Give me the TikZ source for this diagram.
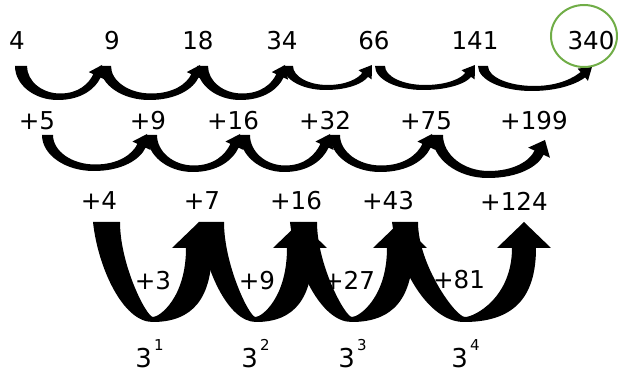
\documentclass[tikz,border=0pt]{standalone}
\usepackage{fontspec}
\setmainfont{DejaVu Sans}
\usetikzlibrary{shapes.geometric}
\definecolor{circgreen}{HTML}{70AD47}
\pgfkeys{/carr/.is family, /carr,
 a/.store in=\cA, w/.store in=\cW, yt/.store in=\cYT, t/.store in=\cT,
 ytip/.store in=\cYTip, yb/.store in=\cYB, th/.store in=\cTH, hh/.store in=\cHH,
 hw/.store in=\cHW, s/.store in=\cS, phi/.store in=\cPhi, kv/.store in=\cKV,
 kh/.store in=\cKH, ki/.store in=\cKI, kr/.store in=\cKR, kir/.store in=\cKIR,
 tx/.store in=\cTX}
\newcommand\carrow[1]{\begingroup
 \pgfkeys{/carr, phi=0, kv=0.552, kh=0.552, ki=0.552, kr=0.552, kir=0.552, tx=0, #1}%
 \pgfmathsetmacro\cB{\cA+\cW}%
 \pgfmathsetmacro\sn{sin(\cPhi)}\pgfmathsetmacro\cs{cos(\cPhi)}%
 \pgfmathsetmacro\Bx{\cT-\cHH*\sn}\pgfmathsetmacro\By{\cYTip+\cHH*\cs}%
 \pgfmathsetmacro\Rx{\Bx+\cS*\cs}\pgfmathsetmacro\Ry{\By+\cS*\sn}%
 \pgfmathsetmacro\Lx{\Bx-\cS*\cs}\pgfmathsetmacro\Ly{\By-\cS*\sn}%
 \pgfmathsetmacro\HRx{\Bx+\cHW*\cs}\pgfmathsetmacro\HRy{\By+\cHW*\sn}%
 \pgfmathsetmacro\HLx{\Bx-\cHW*\cs}\pgfmathsetmacro\HLy{\By-\cHW*\sn}%
 \pgfmathsetmacro\Xo{(\cA+\Rx)/2}%
 \pgfmathsetmacro\Ybi{\cYB-\cTH}%
 \pgfmathsetmacro\Xi{(\cB+\Lx)/2}%
 \pgfmathsetmacro\Oax{\cA+\cTX*(\Xo-\cA)}%
 \pgfmathsetmacro\Oay{\cYT+\cKV*(\cYB-\cYT)}%
 \pgfmathsetmacro\Obx{\Xo-\cKH*(\Xo-\cA)}%
 \pgfmathsetmacro\Ocx{\Xo+\cKR*(\Rx-\Xo)}%
 \pgfmathsetmacro\Lr{\cKR*(\cYB-\Ry)}%
 \pgfmathsetmacro\Odx{\Rx-\Lr*\sn}\pgfmathsetmacro\Ody{\Ry+\Lr*\cs}%
 \pgfmathsetmacro\Li{\cKIR*(\Ybi-\Ly)}%
 \pgfmathsetmacro\Iax{\Lx-\Li*\sn}\pgfmathsetmacro\Iay{\Ly+\Li*\cs}%
 \pgfmathsetmacro\Ibx{\Xi+\cKI*(\Lx-\Xi)}%
 \pgfmathsetmacro\Icx{\Xi-\cKI*(\Xi-\cB)}%
 \pgfmathsetmacro\Idy{\cYT+\cKV*(\Ybi-\cYT)}%
 \fill[arrowfill] (\cA,\cYT) .. controls (\Oax,\Oay) and (\Obx,\cYB) .. (\Xo,\cYB)
   .. controls (\Ocx,\cYB) and (\Odx,\Ody) .. (\Rx,\Ry)
   -- (\HRx,\HRy) -- (\cT,\cYTip) -- (\HLx,\HLy) -- (\Lx,\Ly)
   .. controls (\Iax,\Iay) and (\Ibx,\Ybi) .. (\Xi,\Ybi)
   .. controls (\Icx,\Ybi) and (\cB,\Idy) .. (\cB,\cYT) -- cycle;
 \endgroup}
\tikzset{
 arrowfill/.style={fill=black},
 lbl/.style={font=\fontsize{12.3}{14}\selectfont, inner sep=0pt},
 pw/.style={font=\fontsize{13}{15}\selectfont, inner sep=0pt, anchor=base west},
 ring/.style={draw=circgreen, line width=1pt, ellipse, minimum width=33pt, minimum height=31pt, inner sep=0pt},
 bigarr/.style={}
}
\newcommand\supp[1]{\kern0.08em\raisebox{0.68em}{\fontsize{7.5}{8}\selectfont #1}}
\begin{document}
\begin{tikzpicture}[x=0.5pt,y=-0.5pt]
\useasboundingbox (0,0) rectangle (618,374);
% row 1 arrows
\carrow{a=15, w=12, yt=66, t=102, ytip=65, yb=100, th=6.5, hh=12, hw=9, s=4, phi=25}
\carrow{a=100, w=11, yt=66, t=200, ytip=65, yb=100, th=6.5, hh=12, hw=9, s=4, phi=25}
\carrow{a=197, w=11, yt=66, t=285, ytip=65, yb=100, th=6.5, hh=12, hw=9, s=4, phi=25}
\carrow{a=283, w=10, yt=66, t=372, ytip=65, yb=90, th=5, hh=12, hw=8, s=3.5, phi=35}
\carrow{a=375, w=10, yt=66, t=475, ytip=65, yb=90, th=5, hh=12, hw=8, s=3.5, phi=35}
\carrow{a=478, w=10, yt=66, t=592, ytip=67, yb=91, th=5, hh=12, hw=8, s=3.5, phi=50}
% row 2 arrows
\carrow{a=42, w=11, yt=135, t=147, ytip=134, yb=171, th=6.5, hh=13, hw=10, s=4.5, phi=25}
\carrow{a=147, w=10, yt=135, t=240, ytip=134, yb=172, th=6.5, hh=13, hw=10, s=4.5, phi=25}
\carrow{a=240, w=10, yt=135, t=330, ytip=134, yb=172, th=6.5, hh=13, hw=10, s=4.5, phi=25}
\carrow{a=330, w=10, yt=135, t=432, ytip=134, yb=172, th=6.5, hh=13, hw=10, s=4.5, phi=25}
\carrow{a=432, w=11, yt=135, t=545, ytip=140, yb=178, th=7, hh=14, hw=12, s=5, phi=25}
% row 3 arrows
\carrow{a=93, w=27, yt=222, t=199, ytip=222, yb=322, th=5, hh=26, hw=27, s=13, kv=0.45, kh=0.5, ki=0.2, kr=0.68, kir=0.72, tx=0.08}
\carrow{a=199, w=25, yt=222, t=300, ytip=222, yb=322, th=5, hh=26, hw=27, s=13, kv=0.45, kh=0.5, ki=0.2, kr=0.68, kir=0.72, tx=0.08}
\carrow{a=290, w=27, yt=222, t=400, ytip=222, yb=322, th=5, hh=26, hw=27, s=13, kv=0.45, kh=0.5, ki=0.2, kr=0.68, kir=0.72, tx=0.08}
\carrow{a=392, w=26, yt=222, t=524, ytip=222, yb=322, th=5, hh=26, hw=27, s=12, kv=0.45, kh=0.5, ki=0.2, kr=0.68, kir=0.72, tx=0.08}
% row 1 numbers
\node[lbl] (n4) at (17,41) {4};
\node[lbl] (n9) at (112,41) {9};
\node[lbl] (n18) at (198,41) {18};
\node[lbl] (n34) at (282,41) {34};
\node[lbl] (n66) at (374,41) {66};
\node[lbl] (n141) at (475,41) {141};
\node[lbl] (n340) at (591,41) {340};
\node[ring] (c340) at (584,36) {};
% row 2
\node[lbl] (d5) at (37,121) {+5};
\node[lbl] (d9) at (148,121) {+9};
\node[lbl] (d16) at (233,121) {+16};
\node[lbl] (d32) at (325,121) {+32};
\node[lbl] (d75) at (426,121) {+75};
\node[lbl] (d199) at (534,121) {+199};
% row 3
\node[lbl] (e4) at (99,201) {+4};
\node[lbl] (e7) at (202,201) {+7};
\node[lbl] (e16) at (296,201) {+16};
\node[lbl] (e43) at (388,201) {+43};
\node[lbl] (e124) at (514,201) {+124};
% inner labels
\node[lbl] (f3) at (153,281) {+3};
\node[lbl] (f9) at (257,281) {+9};
\node[lbl] (f27) at (349,280) {+27};
\node[lbl] (f81) at (459,280) {+81};
% powers
\node[pw] (p1) at (135,368) {3\supp{1}};
\node[pw] (p2) at (241,368) {3\supp{2}};
\node[pw] (p3) at (338,368) {3\supp{3}};
\node[pw] (p4) at (451,368) {3\supp{4}};
\end{tikzpicture}
\end{document}
